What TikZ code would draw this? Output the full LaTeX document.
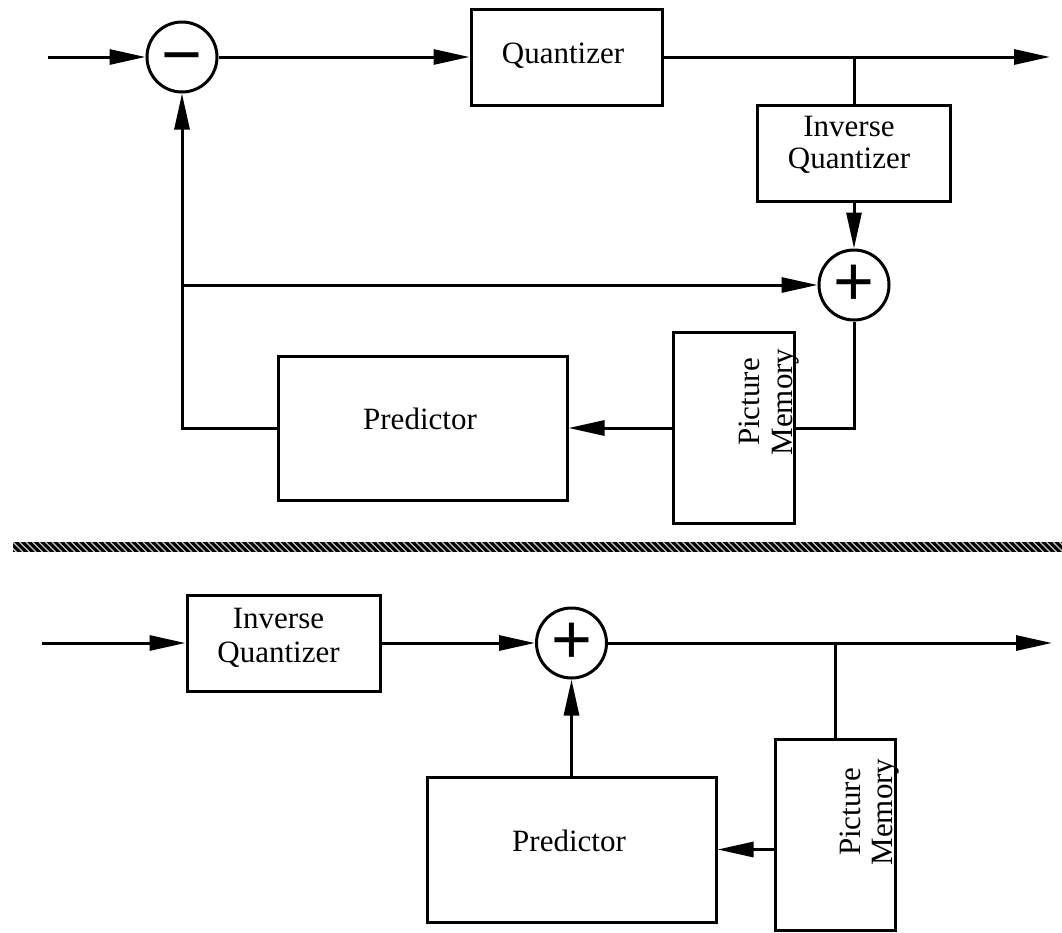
\documentclass[tikz,border=0pt]{standalone}
\usepackage{fontspec}
\setmainfont{Liberation Serif}
\newfontfamily\signfont{Liberation Sans}
\usetikzlibrary{arrows.meta}
\begin{document}
\begin{tikzpicture}[x=1pt,y=-1pt,
  box/.style={draw,line width=3pt,inner sep=0pt},
  txt/.style={font=\fontsize{31}{34}\selectfont,inner sep=0pt,anchor=base},
  sign/.style={font=\signfont\fontsize{70}{70}\selectfont,inner sep=0pt,anchor=base},
  sumc/.style={circle,draw,line width=3pt,minimum size=70pt,inner sep=0pt},
  wire/.style={line width=3pt},
  arr/.style={line width=3pt,-{Triangle[length=36pt,width=15pt]}}]
\useasboundingbox (0,0) rectangle (1062,932);

% ---------- top: encoder ----------
\coordinate (in1) at (48,57);
\coordinate (out1) at (1050,57);
\node[sumc] (M) at (182,57) {};
\node[sign] (Msign) at (182,78) {−};
\node[box,minimum width=191pt,minimum height=96pt] (Q) at (566.5,57) {};
\node[txt] (Qt) at (563,63) {Quantizer};
\node[box,minimum width=193pt,minimum height=96pt] (IQ1) at (854,153) {};
\node[txt] (IQ1a) at (849,136) {Inverse};
\node[txt] (IQ1b) at (849,168) {Quantizer};
\node[sumc] (P1) at (854,285) {};
\node[sign] (P1sign) at (854,305) {+};
\node[box,minimum width=289pt,minimum height=144pt] (Pred1) at (422.5,428) {};
\node[txt] (Pred1t) at (420,429) {Predictor};
\node[box,minimum width=121pt,minimum height=191pt] (PM1) at (733.5,428) {};
\node[txt,rotate=90] (PM1a) at (759,402) {Picture};
\node[txt,rotate=90] (PM1b) at (792,402) {Memory};
\coordinate (J) at (182,285);

\draw[arr] (in1) -- (M);
\draw[arr] (M) -- (Q);
\draw[arr] (Q) -- (out1);
\draw[wire] (IQ1.north) -- (IQ1.north |- Q.east);
\draw[arr] (IQ1) -- (P1);
\draw[wire] (P1.south) |- (PM1.east);
\draw[arr] (PM1) -- (Pred1);
\draw[arr] (Pred1.west) -| (M.south);
\draw[arr] (J) -- (P1);

% ---------- divider ----------
\fill (13,542) rectangle (1062,552);
\begin{scope}
  \clip (13,542) rectangle (1062,552);
  \foreach \x in {0,6.5,...,1075}
    \draw[gray!45,line width=1.4pt] (\x,542) -- (\x+10,552);
\end{scope}

% ---------- bottom: decoder ----------
\coordinate (in2) at (42,643);
\coordinate (out2) at (1052,643);
\node[box,minimum width=193pt,minimum height=96pt] (IQ2) at (283.5,643) {};
\node[txt] (IQ2a) at (278.5,628) {Inverse};
\node[txt] (IQ2b) at (278.5,662) {Quantizer};
\node[sumc] (P2) at (571.5,643) {};
\node[sign] (P2sign) at (571.5,663) {+};
\node[box,minimum width=289pt,minimum height=145pt] (Pred2) at (571.5,849.5) {};
\node[txt] (Pred2t) at (569,851) {Predictor};
\node[box,minimum width=120pt,minimum height=191pt] (PM2) at (835,834.5) {};
\node[txt,rotate=90] (PM2a) at (860,812) {Picture};
\node[txt,rotate=90] (PM2b) at (892,812) {Memory};

\draw[arr] (in2) -- (IQ2);
\draw[arr] (IQ2) -- (P2);
\draw[arr] (P2) -- (out2);
\draw[wire] (PM2.north) -- (PM2.north |- P2.east);
\draw[arr] (PM2.west |- Pred2.east) -- (Pred2.east);
\draw[arr] (Pred2) -- (P2);
\end{tikzpicture}
\end{document}
